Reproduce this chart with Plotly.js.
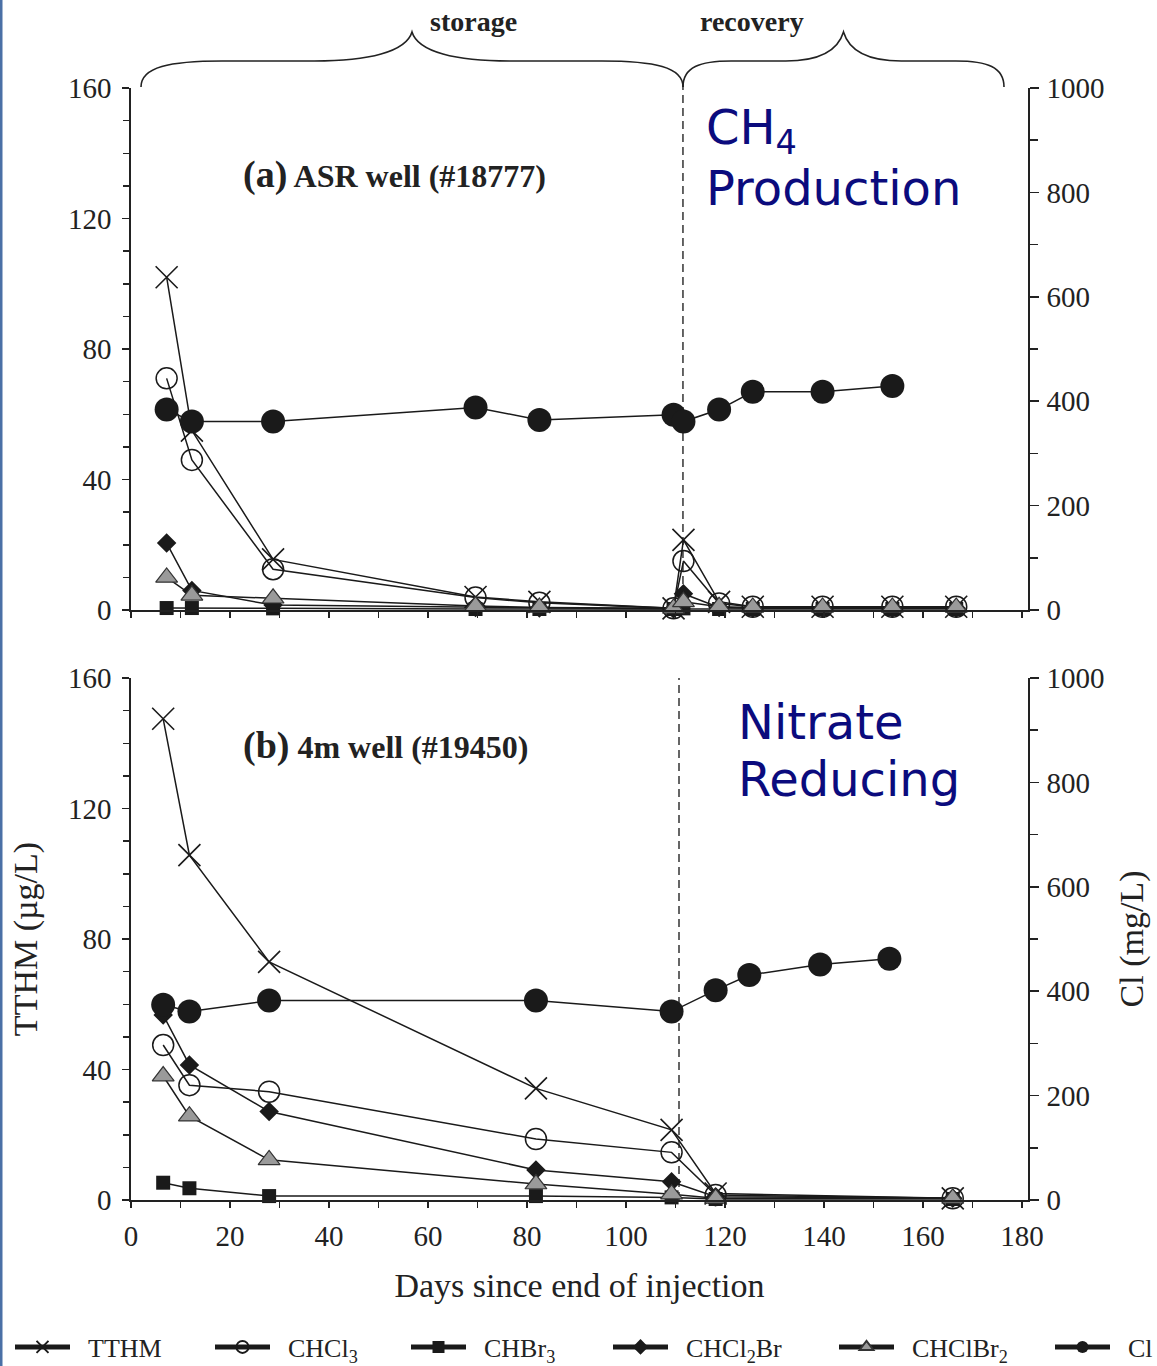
<!DOCTYPE html>
<html>
<head>
<meta charset="utf-8">
<script src="https://cdn.plot.ly/plotly-3.0.1.min.js"></script>
<style>
  html, body { margin: 0; padding: 0; background: #fff; }
  #chart { width: 1157px; height: 1366px; }
</style>
</head>
<body>
<div id="chart"></div>
<script>
// ---------- DATA ----------
// Panel (a) ASR well (#18777)
const thmDaysA = [7.2, 12.3, 28.7, 69.6, 82.5, 109.6, 111.6, 118.8, 125.6, 139.7, 153.8, 166.7];
const tthmA    = [102, 55, 15.5, 4, 2.5, 0.5, 21.5, 2.5, 1, 1, 1, 1];
const chcl3A   = [71, 46, 12.5, 3.8, 2.2, 0.5, 15, 2, 1, 1, 1, 1];
const chbr3A   = [0.6, 0.6, 0.5, 0.3, 0.3, 0.3, 0.5, 0.3, 0.3, 0.3, 0.3, 0.3];
const chcl2brA = [20.5, 6, 1.5, 0.8, 0.6, 0.3, 5, 0.8, 0.5, 0.5, 0.5, 0.5];
const chclbr2A = [10, 4.5, 3.6, 1.2, 0.8, 0.5, 2.5, 1, 0.8, 0.8, 0.8, 0.8];
const clDaysA  = [7.2, 12.3, 28.7, 69.6, 82.5, 109.6, 111.6, 118.8, 125.6, 139.7, 153.8];
const clA      = [384, 361, 361, 388, 364, 374, 361, 384, 418, 418, 429];

// Panel (b) 4m well (#19450)
const thmDaysB = [6.5, 11.8, 27.9, 81.8, 109.2, 118.1, 166];
const tthmB    = [147.5, 105.7, 73, 34.2, 21.5, 2, 0.5];
const chcl3B   = [47.5, 35.2, 33.2, 18.7, 14.6, 1.5, 0.5];
const chbr3B   = [5.3, 3.6, 1.2, 1.2, 0.8, 0.3, 0.3];
const chcl2brB = [56.7, 41.4, 27.1, 9.2, 5.6, 1, 0.5];
const chclbr2B = [38, 25.7, 12.3, 4.9, 1.8, 0.5, 0.5];
const clDaysB  = [6.5, 11.8, 27.9, 81.8, 109.2, 118.1, 124.9, 139.2, 153.2];
const clB      = [374, 361, 382, 382, 361, 402, 431, 451, 462];

// End of storage (dashed lines), days
const storageEndA = 111.5;
const storageEndB = 110.7;

// Labels
const seriesNames = ['TTHM', 'CHCl<sub>3</sub>', 'CHBr<sub>3</sub>', 'CHCl<sub>2</sub>Br', 'CHClBr<sub>2</sub>', 'Cl'];
const panelLabels = [['(a)', ' ASR well (#18777)'], ['(b)', ' 4m well (#19450)']];
const phaseLabels = ['storage', 'recovery'];
const redoxLabelsA = ['CH<sub>4</sub>', 'Production'];
const redoxLabelsB = ['Nitrate', 'Reducing'];
const xTitle = 'Days since end of injection';
const yTitleL = 'TTHM (µg/L)';
const yTitleR = 'Cl (mg/L)';

// ---------- LAYOUT HELPERS ----------
const W = 1157, H = 1366;
const ML = 131, MR = 129, MT = 88, MB = 166;
const PW = W - ML - MR, PH = H - MT - MB;
const px = p => (p - ML) / PW;            // pixel x -> paper
const py = p => (H - MB - p) / PH;        // pixel y -> paper
const topDom = [py(610), 1];
const botDom = [0, py(678)];

const SERIF = 'Liberation Serif, Times New Roman, serif';
const INK = '#1a1a1a';

const styles = [
  {symbol: 'x-thin-open', size: 22, color: INK, line: {width: 1.6, color: INK}},
  {symbol: 'circle-open', size: 21, color: INK, line: {width: 1.5, color: INK}},
  {symbol: 'square', size: 14, color: INK, line: {width: 0}},
  {symbol: 'diamond', size: 15, color: INK, line: {width: 0}},
  {symbol: 'triangle-up', size: 19, color: '#9a9a9a', line: {width: 1.2, color: '#333'}},
  {symbol: 'circle', size: 24, color: INK, line: {width: 0}}
];

const GAP = '\u00a0\u00a0';
function tr(x, y, i, xa, ya, legendOn) {
  return {
    type: 'scatter', mode: 'lines+markers', x: x, y: y,
    xaxis: xa, yaxis: ya, name: GAP + seriesNames[i],
    line: {color: INK, width: 1.5},
    marker: styles[i], cliponaxis: false,
    showlegend: legendOn, legend: 'legend' + (i === 0 ? '' : (i + 1)),
    hoverinfo: 'x+y+name'
  };
}

const thmA = [tthmA, chcl3A, chbr3A, chcl2brA, chclbr2A];
const thmB = [tthmB, chcl3B, chbr3B, chcl2brB, chclbr2B];

const data = [];
data.push(tr(clDaysA, clA, 5, 'x', 'y2', true));
data.push(tr(clDaysB, clB, 5, 'x2', 'y4', false));
for (let i = 0; i < 5; i++) data.push(tr(thmDaysA, thmA[i], i, 'x', 'y', true));
for (let i = 0; i < 5; i++) data.push(tr(thmDaysB, thmB[i], i, 'x2', 'y3', false));

// ---------- AXES ----------
const tickFont = {family: SERIF, size: 29, color: '#222'};
const titleFont = {family: SERIF, size: 34, color: '#222'};
function xAx(anchor, labels) {
  return {
    anchor: anchor, domain: [0, 1], range: [0, 181.2],
    showline: true, linecolor: '#222', linewidth: 1.6,
    ticks: 'outside', ticklen: 6, tickwidth: 1.5, tickcolor: '#222',
    dtick: 20, tick0: 0, showticklabels: labels, tickfont: tickFont,
    ticklabelstandoff: 4,
    minor: {dtick: 10, ticks: 'outside', ticklen: 6, tickwidth: 1.5, tickcolor: '#222'},
    showgrid: false, zeroline: false, fixedrange: true
  };
}
function yAxL(anchor, dom) {
  return {
    anchor: anchor, domain: dom, range: [0, 160],
    showline: true, linecolor: '#222', linewidth: 1.6,
    ticks: 'outside', ticklen: 7, tickwidth: 1.5, tickcolor: '#222',
    dtick: 40, tick0: 0, tickfont: tickFont, ticklabelstandoff: 5,
    minor: {dtick: 10, ticks: 'outside', ticklen: 6, tickwidth: 1.5, tickcolor: '#222'},
    showgrid: false, zeroline: false, fixedrange: true
  };
}
function yAxR(anchor, over) {
  return {
    anchor: anchor, overlaying: over, side: 'right', range: [0, 1000],
    showline: true, linecolor: '#222', linewidth: 1.6,
    ticks: 'outside', ticklen: 9, tickwidth: 1.5, tickcolor: '#222',
    dtick: 200, tick0: 0, tickfont: tickFont, ticklabelstandoff: 2,
    minor: {dtick: 100, ticks: 'outside', ticklen: 8, tickwidth: 1.5, tickcolor: '#222'},
    showgrid: false, zeroline: false, fixedrange: true
  };
}

const xaxis = xAx('y', false);
const xaxis2 = xAx('y3', true);
xaxis2.matches = 'x';
xaxis2.title = {text: xTitle, font: titleFont, standoff: 22};
const yaxis = yAxL('x', topDom);
const yaxis3 = yAxL('x2', botDom);
yaxis3.title = {text: yTitleL, font: titleFont, standoff: 20};
const yaxis2 = yAxR('x', 'y');
const yaxis4 = yAxR('x2', 'y3');
yaxis4.title = {text: yTitleR, font: titleFont, standoff: 16};

// ---------- SHAPES ----------
function brace(x0, x1) {
  const c = (x0 + x1) / 2, w = (x1 - x0) / 2;
  const yE = 87, yHh = 61, yP = 32;
  const a = 0.3 * w, b = 0.36 * w;
  const P = (x, y) => px(x).toFixed(5) + ',' + py(y).toFixed(5);
  return 'M' + P(x0, yE) +
    ' C' + P(x0, yHh + 6) + ' ' + P(x0 + a * 0.35, yHh) + ' ' + P(x0 + a, yHh) +
    ' L' + P(c - b, yHh) +
    ' C' + P(c - b * 0.45, yHh) + ' ' + P(c - 6, yHh - 9) + ' ' + P(c, yP) +
    ' C' + P(c + 6, yHh - 9) + ' ' + P(c + b * 0.45, yHh) + ' ' + P(c + b, yHh) +
    ' L' + P(x1 - a, yHh) +
    ' C' + P(x1 - a * 0.35, yHh) + ' ' + P(x1, yHh + 6) + ' ' + P(x1, yE);
}
const shapes = [
  {type: 'path', xref: 'paper', yref: 'paper', path: brace(141, 683), line: {color: '#222', width: 1.6}},
  {type: 'path', xref: 'paper', yref: 'paper', path: brace(683, 1004), line: {color: '#222', width: 1.6}},
  {type: 'line', xref: 'x', yref: 'y domain', x0: storageEndA, x1: storageEndA, y0: 0, y1: 1.01,
   line: {color: '#333', width: 1.5, dash: '8px,5px'}, layer: 'below'},
  {type: 'line', xref: 'x2', yref: 'y3 domain', x0: storageEndB, x1: storageEndB, y0: 0, y1: 1,
   line: {color: '#333', width: 1.5, dash: '8px,5px'}, layer: 'below'},
  {type: 'rect', xref: 'paper', yref: 'paper', x0: px(0), x1: px(2.5), y0: py(H), y1: py(0),
   fillcolor: '#4a70a6', line: {width: 0}}
];

// ---------- ANNOTATIONS ----------
const NAVY = '#0b0b7d';
const annotations = [
  {xref: 'paper', yref: 'paper', x: px(473), y: py(21), text: '<b>' + phaseLabels[0] + '</b>',
   showarrow: false, xanchor: 'center', yanchor: 'middle', font: {family: SERIF, size: 28, color: '#222'}},
  {xref: 'paper', yref: 'paper', x: px(752), y: py(21), text: '<b>' + phaseLabels[1] + '</b>',
   showarrow: false, xanchor: 'center', yanchor: 'middle', font: {family: SERIF, size: 28, color: '#222'}},
  {xref: 'paper', yref: 'paper', x: px(241), y: py(175),
   text: '<b><span style="font-size:38px">' + panelLabels[0][0] + '</span>' + panelLabels[0][1] + '</b>',
   showarrow: false, xanchor: 'left', yanchor: 'middle', font: {family: SERIF, size: 32, color: '#222'}},
  {xref: 'paper', yref: 'paper', x: px(241), y: py(745),
   text: '<b><span style="font-size:38px">' + panelLabels[1][0] + '</span>' + panelLabels[1][1] + '</b>',
   showarrow: false, xanchor: 'left', yanchor: 'middle', font: {family: SERIF, size: 32, color: '#222'}},
  {xref: 'paper', yref: 'paper', x: px(704), y: py(131), text: redoxLabelsA[0],
   showarrow: false, xanchor: 'left', yanchor: 'middle', font: {family: 'DejaVu Sans', size: 48, color: NAVY}},
  {xref: 'paper', yref: 'paper', x: px(704), y: py(188), text: redoxLabelsA[1],
   showarrow: false, xanchor: 'left', yanchor: 'middle', font: {family: 'DejaVu Sans', size: 48, color: NAVY}},
  {xref: 'paper', yref: 'paper', x: px(736), y: py(722), text: redoxLabelsB[0],
   showarrow: false, xanchor: 'left', yanchor: 'middle', font: {family: 'DejaVu Sans', size: 48, color: NAVY}},
  {xref: 'paper', yref: 'paper', x: px(736), y: py(779), text: redoxLabelsB[1],
   showarrow: false, xanchor: 'left', yanchor: 'middle', font: {family: 'DejaVu Sans', size: 48, color: NAVY}}
];

// ---------- LEGENDS (one per series, placed along the bottom) ----------
const legendStarts = [10, 210, 406, 608, 834, 1050];
const legendFont = {family: SERIF, size: 26, color: '#222'};
const layout = {
  width: W, height: H,
  margin: {l: ML, r: MR, t: MT, b: MB, pad: 0, autoexpand: false},
  paper_bgcolor: '#fff', plot_bgcolor: 'rgba(0,0,0,0)',
  xaxis: xaxis, xaxis2: xaxis2, yaxis: yaxis, yaxis2: yaxis2, yaxis3: yaxis3, yaxis4: yaxis4,
  shapes: shapes, annotations: annotations, hovermode: 'closest'
};
legendStarts.forEach((s, i) => {
  const key = 'legend' + (i === 0 ? '' : (i + 1));
  layout[key] = {
    orientation: 'h', x: px(s), y: py(1347), xanchor: 'left', yanchor: 'middle',
    xref: 'paper', yref: 'paper',
    font: legendFont, bgcolor: 'rgba(0,0,0,0)', borderwidth: 0,
    itemsizing: 'constant', itemwidth: 55, tracegroupgap: 0
  };
});

Plotly.newPlot('chart', data, layout, {displayModeBar: false, staticPlot: true});
</script>
</body>
</html>
